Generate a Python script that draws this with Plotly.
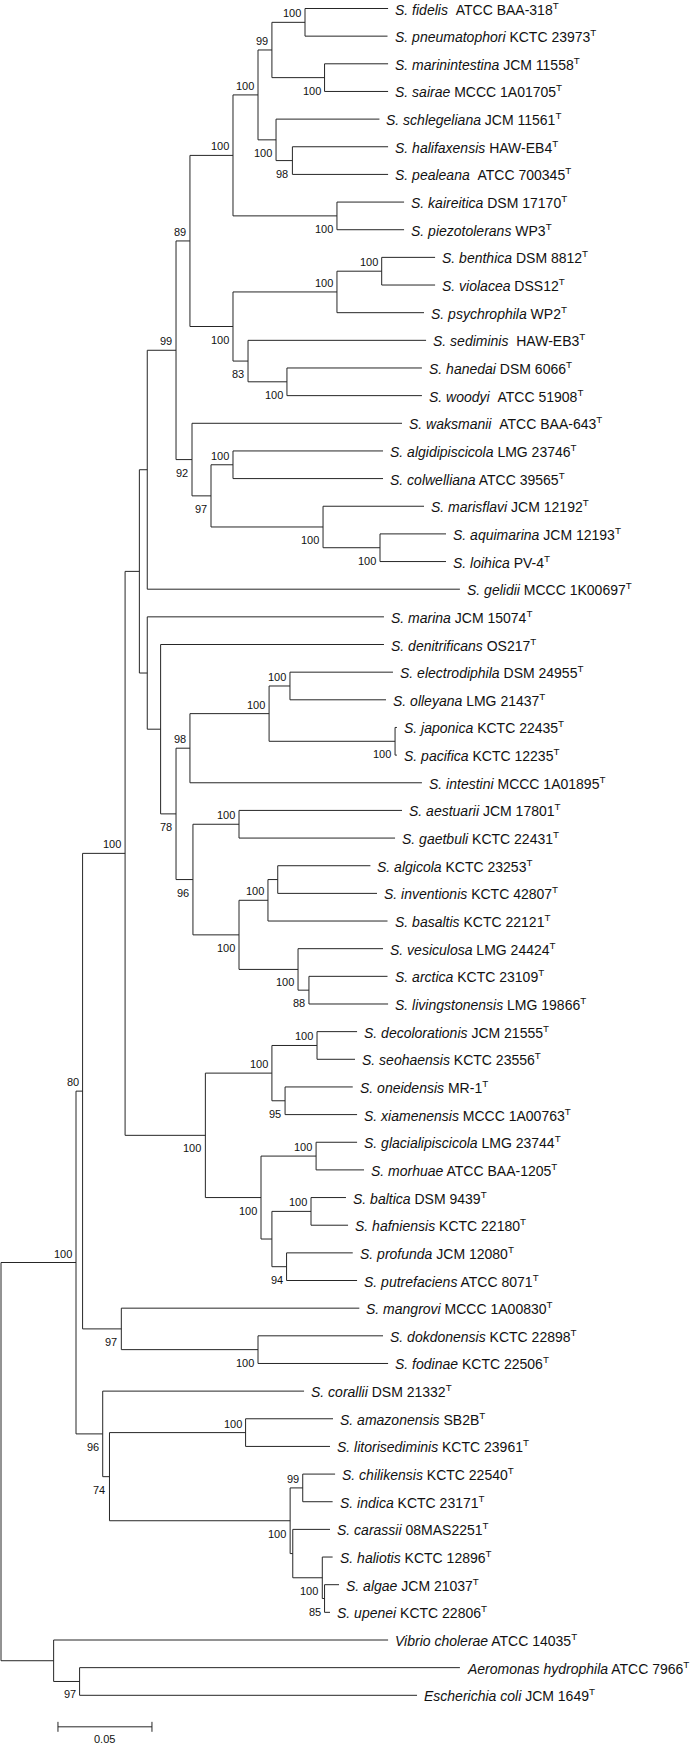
import plotly.graph_objects as go

# ---------------- data ----------------
leaf_species = [
    "S. fidelis", "S. pneumatophori", "S. marinintestina", "S. sairae", "S. schlegeliana",
    "S. halifaxensis", "S. pealeana", "S. kaireitica", "S. piezotolerans", "S. benthica",
    "S. violacea", "S. psychrophila", "S. sediminis", "S. hanedai", "S. woodyi",
    "S. waksmanii", "S. algidipiscicola", "S. colwelliana", "S. marisflavi", "S. aquimarina",
    "S. loihica", "S. gelidii", "S. marina", "S. denitrificans", "S. electrodiphila",
    "S. olleyana", "S. japonica", "S. pacifica", "S. intestini", "S. aestuarii",
    "S. gaetbuli", "S. algicola", "S. inventionis", "S. basaltis", "S. vesiculosa",
    "S. arctica", "S. livingstonensis", "S. decolorationis", "S. seohaensis", "S. oneidensis",
    "S. xiamenensis", "S. glacialipiscicola", "S. morhuae", "S. baltica", "S. hafniensis",
    "S. profunda", "S. putrefaciens", "S. mangrovi", "S. dokdonensis", "S. fodinae",
    "S. corallii", "S. amazonensis", "S. litorisediminis", "S. chilikensis", "S. indica",
    "S. carassii", "S. haliotis", "S. algae", "S. upenei", "Vibrio cholerae",
    "Aeromonas hydrophila", "Escherichia coli",
]
leaf_strain = [
    "\u00a0ATCC BAA-318", "KCTC 23973", "JCM 11558", "MCCC 1A01705", "JCM 11561",
    "HAW-EB4", "\u00a0ATCC 700345", "DSM 17170", "WP3", "DSM 8812",
    "DSS12", "WP2", "\u00a0HAW-EB3", "DSM 6066", "\u00a0ATCC 51908",
    "\u00a0ATCC BAA-643", "LMG 23746", "ATCC 39565", "JCM 12192", "JCM 12193",
    "PV-4", "MCCC 1K00697", "JCM 15074", "OS217", "DSM 24955",
    "LMG 21437", "KCTC 22435", "KCTC 12235", "MCCC 1A01895", "JCM 17801",
    "KCTC 22431", "KCTC 23253", "KCTC 42807", "KCTC 22121", "LMG 24424",
    "KCTC 23109", "LMG 19866", "JCM 21555", "KCTC 23556", "MR-1",
    "MCCC 1A00763", "LMG 23744", "ATCC BAA-1205", "DSM 9439", "KCTC 22180",
    "JCM 12080", "ATCC 8071", "MCCC 1A00830", "KCTC 22898", "KCTC 22506",
    "DSM 21332", "SB2B", "KCTC 23961", "KCTC 22540", "KCTC 23171",
    "08MAS2251", "KCTC 12896", "JCM 21037", "KCTC 22806", "ATCC 14035",
    "ATCC 7966", "JCM 1649",
]
# cumulative distance from root to each tip (substitutions per site)
leaf_depth = [
    0.2059, 0.2056, 0.2059, 0.2059, 0.2013,
    0.2059, 0.2059, 0.2144, 0.2144, 0.2309,
    0.2309, 0.2250, 0.2261, 0.2239, 0.2239,
    0.2133, 0.2032, 0.2032, 0.2250, 0.2367,
    0.2367, 0.2441, 0.2037, 0.2037, 0.2085,
    0.2048, 0.2106, 0.2106, 0.2239, 0.2133,
    0.2096, 0.1965, 0.2000, 0.2056, 0.2032,
    0.2056, 0.2059, 0.1894, 0.1883, 0.1871,
    0.1894, 0.1894, 0.1931, 0.1835, 0.1846,
    0.1871, 0.1894, 0.1906, 0.2032, 0.2059,
    0.1612, 0.1766, 0.1750, 0.1777, 0.1764,
    0.1750, 0.1764, 0.1798, 0.1750, 0.2059,
    0.2441, 0.2213,
]

# internal nodes (children listed top to bottom), depth from root, bootstrap support
node_names = [
    "n_fid", "n_mar", "n_99a", "n_98", "n_schl", "n_100b", "n_kai", "n_233a",
    "n_bv", "n_psy", "n_hw", "n_83", "n_233b", "n_89", "n_ac", "n_al", "n_mf",
    "n_97a", "n_92", "n_99b", "n_gel", "n_eo", "n_jp", "n_F", "n_E98", "n_ag",
    "n_ai", "n_aib", "n_88", "n_ves", "n_H", "n_G96", "n_D78", "n_C", "n_B", "n_A",
    "n_ds", "n_95", "n_dsox", "n_gm", "n_bh", "n_94", "n_L", "n_K", "n_J", "n_I",
    "n_df", "n_97b", "n_80", "n_amz", "n_ci", "n_85", "n_Y", "n_X", "n_big",
    "n_74", "n_96", "n_shew", "n_ae", "n_out", "root",
]
node_children = [
    ["S. fidelis", "S. pneumatophori"], ["S. marinintestina", "S. sairae"],
    ["n_fid", "n_mar"], ["S. halifaxensis", "S. pealeana"], ["S. schlegeliana", "n_98"],
    ["n_99a", "n_schl"], ["S. kaireitica", "S. piezotolerans"], ["n_100b", "n_kai"],
    ["S. benthica", "S. violacea"], ["n_bv", "S. psychrophila"], ["S. hanedai", "S. woodyi"],
    ["S. sediminis", "n_hw"], ["n_psy", "n_83"], ["n_233a", "n_233b"],
    ["S. algidipiscicola", "S. colwelliana"], ["S. aquimarina", "S. loihica"],
    ["S. marisflavi", "n_al"], ["n_ac", "n_mf"], ["S. waksmanii", "n_97a"],
    ["n_89", "n_92"], ["n_99b", "S. gelidii"], ["S. electrodiphila", "S. olleyana"],
    ["S. japonica", "S. pacifica"], ["n_eo", "n_jp"], ["n_F", "S. intestini"],
    ["S. aestuarii", "S. gaetbuli"], ["S. algicola", "S. inventionis"],
    ["n_ai", "S. basaltis"], ["S. arctica", "S. livingstonensis"], ["S. vesiculosa", "n_88"],
    ["n_aib", "n_ves"], ["n_ag", "n_H"], ["n_E98", "n_G96"], ["S. denitrificans", "n_D78"],
    ["S. marina", "n_C"], ["n_gel", "n_B"], ["S. decolorationis", "S. seohaensis"],
    ["S. oneidensis", "S. xiamenensis"], ["n_ds", "n_95"],
    ["S. glacialipiscicola", "S. morhuae"], ["S. baltica", "S. hafniensis"],
    ["S. profunda", "S. putrefaciens"], ["n_bh", "n_94"], ["n_gm", "n_L"],
    ["n_dsox", "n_K"], ["n_A", "n_J"], ["S. dokdonensis", "S. fodinae"],
    ["S. mangrovi", "n_df"], ["n_I", "n_97b"], ["S. amazonensis", "S. litorisediminis"],
    ["S. chilikensis", "S. indica"], ["S. algae", "S. upenei"], ["S. haliotis", "n_85"],
    ["S. carassii", "n_Y"], ["n_ci", "n_X"], ["n_amz", "n_big"], ["S. corallii", "n_74"],
    ["n_80", "n_96"], ["Aeromonas hydrophila", "Escherichia coli"],
    ["Vibrio cholerae", "n_ae"], ["n_shew", "n_out"],
]
node_depth = [
    0.1617, 0.1721, 0.1441, 0.1550, 0.1463, 0.1367, 0.1787, 0.1234,
    0.2025, 0.1787, 0.1521, 0.1314, 0.1234, 0.1005, 0.1234, 0.2016, 0.1713,
    0.1117, 0.1016, 0.0931, 0.0778, 0.1537, 0.2096, 0.1426, 0.1005, 0.1266,
    0.1472, 0.1420, 0.1638, 0.1580, 0.1266, 0.1021, 0.0931, 0.0849, 0.0778, 0.0736,
    0.1681, 0.1511, 0.1441, 0.1676, 0.1649, 0.1519, 0.1441, 0.1383, 0.1087, 0.0660,
    0.1367, 0.0640, 0.0434, 0.1301, 0.1605, 0.1721, 0.1709, 0.1552, 0.1538,
    0.0577, 0.0541, 0.0399, 0.0418, 0.0280, 0.0,
]
node_support = [
    "100", "100", "99", "98", "100", "100", "100", "100",
    "100", "100", "100", "83", "100", "89", "100", "100", "100",
    "97", "92", "99", None, "100", "100", "100", "98", "100",
    None, "100", "88", "100", "100", "96", "78", None, None, None,
    "100", "95", "100", "100", "100", "94", None, "100", "100", "100",
    "100", "97", "80", "100", "99", "85", "100", None, "100",
    "74", "96", "100", "97", None, None,
]
scale_length = 0.05
scale_label = "0.05"

# ---------------- layout of the tree ----------------
depth = {}
ypos = {}
for i, name in enumerate(leaf_species):
    depth[name] = leaf_depth[i]
    ypos[name] = i + 1
children = dict(zip(node_names, node_children))
for n, d in zip(node_names, node_depth):
    depth[n] = d


def node_y(n):
    if n in ypos:
        return ypos[n]
    ys = [node_y(c) for c in children[n]]
    ypos[n] = (ys[0] + ys[-1]) / 2.0
    return ypos[n]


node_y("root")
child_rank = {}
for n in node_names:
    for k, c in enumerate(children[n]):
        child_rank[c] = "upper" if k == 0 else "lower"

LINE = "#262626"
xs, ys = [], []
for n in node_names:
    ch = children[n]
    xs += [depth[n], depth[n], None]
    ys += [ypos[ch[0]], ypos[ch[-1]], None]
    for c in ch:
        xs += [depth[n], depth[c], None]
        ys += [ypos[c], ypos[c], None]

fig = go.Figure()
fig.add_trace(go.Scatter(x=xs, y=ys, mode="lines",
                         line=dict(color=LINE, width=1), hoverinfo="skip"))

# scale bar
sb_x0 = 0.0303
sb_y = 63.14
fig.add_trace(go.Scatter(
    x=[sb_x0, sb_x0 + scale_length, None, sb_x0, sb_x0, None,
       sb_x0 + scale_length, sb_x0 + scale_length],
    y=[sb_y, sb_y, None, sb_y - 0.18, sb_y + 0.18, None, sb_y - 0.18, sb_y + 0.18],
    mode="lines", line=dict(color=LINE, width=1), hoverinfo="skip"))

FONT = "Liberation Sans, Arial, Helvetica, sans-serif"
ann = []
for i, sp in enumerate(leaf_species):
    ann.append(dict(
        x=leaf_depth[i], y=i + 1, xref="x", yref="y",
        text="<i>%s</i> %s<sup>T</sup>" % (sp, leaf_strain[i]),
        showarrow=False, xanchor="left", yanchor="middle", xshift=5,
        font=dict(family=FONT, size=14, color="#111111")))

for n, s in zip(node_names, node_support):
    if s is None:
        continue
    above = child_rank.get(n, "upper") == "upper"
    ann.append(dict(
        x=depth[n], y=ypos[n], xref="x", yref="y", text=s, showarrow=False,
        xanchor="right", yanchor="middle", xshift=-2,
        yshift=9 if above else -13,
        font=dict(family=FONT, size=11, color="#111111")))

ann.append(dict(x=sb_x0 + scale_length / 2, y=sb_y, xref="x", yref="y",
                text=scale_label, showarrow=False, xanchor="center",
                yanchor="middle", yshift=-12,
                font=dict(family=FONT, size=11, color="#111111")))

W, H = 700, 1745
px_per_unit = 1880.0
x0 = -1.0 / px_per_unit
x1 = x0 + W / px_per_unit
first_leaf_px = 8.5
leaf_gap = (1695.3 - first_leaf_px) / 61.0
y_top = 1 - first_leaf_px / leaf_gap
y_bot = y_top + H / leaf_gap

fig.update_layout(
    width=W, height=H,
    margin=dict(l=0, r=0, t=0, b=0),
    paper_bgcolor="white", plot_bgcolor="white",
    showlegend=False,
    xaxis=dict(range=[x0, x1], visible=False, fixedrange=True),
    yaxis=dict(range=[y_bot, y_top], visible=False, fixedrange=True),
    annotations=ann,
)

fig.write_html("out.html", config={"displayModeBar": False},
               post_script="document.body.style.margin='0';document.body.style.overflow='hidden';")
